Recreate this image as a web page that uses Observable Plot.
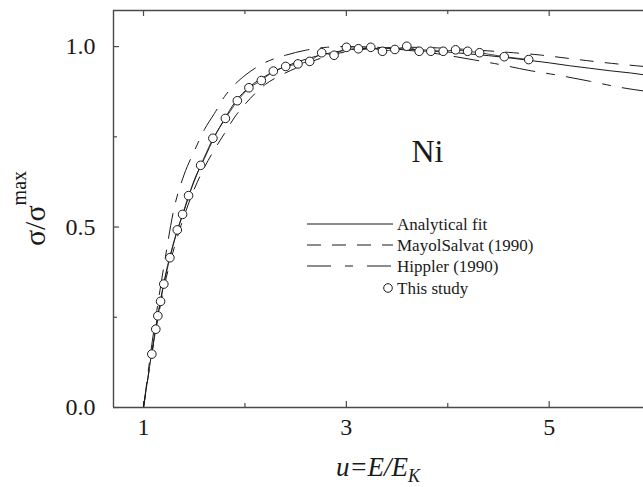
<!DOCTYPE html>
<html>
<head>
<meta charset="utf-8">
<script src="https://cdn.jsdelivr.net/npm/d3@7"></script>
<script src="https://cdn.jsdelivr.net/npm/@observablehq/plot@0.6"></script>
<style>
  html, body { margin: 0; padding: 0; background: #fff; }
</style>
</head>
<body>
<div id="chart"></div>
<script>
// ---- data ----
const studyU = [1.082, 1.121, 1.141, 1.168, 1.200, 1.260, 1.333, 1.385, 1.444, 1.563, 1.684, 1.807, 1.925, 2.039, 2.162, 2.280, 2.402, 2.523, 2.639, 2.757, 2.879, 3.001, 3.119, 3.241, 3.356, 3.478, 3.596, 3.718, 3.833, 3.955, 4.077, 4.196, 4.314, 4.557, 4.798];
const studyS = [0.148, 0.217, 0.254, 0.294, 0.342, 0.415, 0.492, 0.535, 0.587, 0.671, 0.746, 0.801, 0.850, 0.886, 0.906, 0.932, 0.945, 0.952, 0.959, 0.983, 0.976, 0.998, 0.994, 0.998, 0.987, 0.992, 1.001, 0.987, 0.987, 0.987, 0.991, 0.987, 0.983, 0.972, 0.964];

const fitU = [1.0, 1.08, 1.15, 1.2, 1.3, 1.4, 1.5, 1.6, 1.7, 1.8, 1.9, 2.0, 2.2, 2.4, 2.6, 2.8, 3.0, 3.2, 3.4, 3.6, 3.8, 4.0, 4.2, 4.4, 4.6, 4.8, 5.0, 5.2, 5.4, 5.6, 5.8, 5.93];
const fitS = [0.0, 0.15, 0.27, 0.345, 0.46, 0.545, 0.63, 0.69, 0.75, 0.80, 0.845, 0.877, 0.918, 0.945, 0.965, 0.98, 0.99, 0.995, 0.995, 0.993, 0.99, 0.985, 0.98, 0.975, 0.969, 0.962, 0.955, 0.947, 0.94, 0.933, 0.927, 0.922];

const mayolU = [1.0, 1.1, 1.2, 1.3, 1.4, 1.5, 1.6, 1.7, 1.8, 1.9, 2.0, 2.1, 2.2, 2.35, 2.5, 2.7, 2.9, 3.1, 3.4, 3.7, 4.0, 4.3, 4.6, 4.9, 5.2, 5.5, 5.93];
const mayolS = [0.0, 0.18, 0.33, 0.44, 0.53, 0.605, 0.665, 0.715, 0.76, 0.805, 0.84, 0.87, 0.895, 0.92, 0.94, 0.963, 0.98, 0.99, 0.997, 0.998, 0.995, 0.99, 0.984, 0.977, 0.967, 0.957, 0.945];

const hipplerU = [1.0, 1.1, 1.2, 1.3, 1.4, 1.5, 1.6, 1.7, 1.8, 1.9, 2.0, 2.2, 2.4, 2.6, 2.8, 3.0, 3.3, 3.6, 3.9, 4.2, 4.5, 4.8, 5.1, 5.4, 5.7, 5.93];
const hipplerS = [0.0, 0.21, 0.39, 0.55, 0.645, 0.71, 0.77, 0.815, 0.862, 0.895, 0.92, 0.956, 0.976, 0.99, 0.998, 1.0, 0.998, 0.99, 0.98, 0.966, 0.951, 0.934, 0.92, 0.904, 0.887, 0.877];

const xDomain = [0.704, 5.93];
const yDomain = [0, 1.1];
const xMajorTicks = [1, 3, 5];
const xMinorTicks = [2, 4];
const yMajorTicks = [0, 0.5, 1.0];
const yMinorTicks = [0.25, 0.75];
const niLabel = [{u: 3.80, s: 0.71, text: "Ni"}];

const legendItems = [
  {label: "Analytical fit", dash: null},
  {label: "MayolSalvat (1990)", dash: "14,11"},
  {label: "Hippler (1990)", dash: "24,14,8,14"},
  {label: "This study", dash: "circle"}
];

// ---- build tables ----
const study = studyU.map((u, i) => ({u, s: studyS[i]}));
const fit = fitU.map((u, i) => ({u, s: fitS[i]}));
const mayol = mayolU.map((u, i) => ({u, s: mayolS[i]}));
const hippler = hipplerU.map((u, i) => ({u, s: hipplerS[i]}));

const W = 643, H = 487;
const mL = 113, mR = 0, mT = 10, mB = 80;
const innerW = W - mL - mR, innerH = H - mT - mB;
const axisColor = "#4a4a4a";
const ink = "#1a1a1a";
const serif = "'Liberation Serif', 'Times New Roman', serif";

const svg = Plot.plot({
  width: W,
  height: H,
  marginLeft: mL,
  marginRight: mR,
  marginTop: mT,
  marginBottom: mB,
  style: {fontFamily: serif, fontSize: "24px", background: "#fff", color: ink},
  x: {domain: xDomain, axis: null},
  y: {domain: yDomain, axis: null},
  marks: [
    // frame lines
    Plot.ruleX([xDomain[0]], {stroke: axisColor, strokeWidth: 1.4}),
    Plot.ruleY([yDomain[1]], {stroke: axisColor, strokeWidth: 1.4}),
    Plot.ruleY([yDomain[0]], {stroke: axisColor, strokeWidth: 1.4}),
    // inward ticks, bottom
    Plot.ruleX(xMajorTicks, {insetTop: innerH - 6, stroke: axisColor, strokeWidth: 1.2}),
    Plot.ruleX(xMinorTicks, {insetTop: innerH - 4, stroke: axisColor, strokeWidth: 1.2}),
    // inward ticks, top
    Plot.ruleX(xMajorTicks, {insetBottom: innerH - 6, stroke: axisColor, strokeWidth: 1.2}),
    Plot.ruleX(xMinorTicks, {insetBottom: innerH - 4, stroke: axisColor, strokeWidth: 1.2}),
    // inward ticks, left
    Plot.ruleY(yMajorTicks, {insetRight: innerW - 6, stroke: axisColor, strokeWidth: 1.2}),
    Plot.ruleY(yMinorTicks, {insetRight: innerW - 4, stroke: axisColor, strokeWidth: 1.2}),
    // tick labels
    Plot.axisX(xMajorTicks, {tickSize: 0, tickPadding: 10, label: null, fill: ink}),
    Plot.axisY(yMajorTicks, {tickSize: 0, tickPadding: 18, label: null, tickFormat: d3.format(".1f"), fill: ink}),
    // curves
    Plot.line(mayol, {x: "u", y: "s", stroke: ink, strokeWidth: 1, strokeDasharray: "13,12", curve: "monotone-x", clip: true}),
    Plot.line(hippler, {x: "u", y: "s", stroke: ink, strokeWidth: 1, strokeDasharray: "25,12,8,12", curve: "monotone-x", clip: true}),
    Plot.line(fit, {x: "u", y: "s", stroke: ink, strokeWidth: 1, curve: "monotone-x", clip: true}),
    Plot.line(study, {x: "u", y: "s", stroke: ink, strokeWidth: 0.8}),
    Plot.dot(study, {x: "u", y: "s", r: 4.3, fill: "#fff", stroke: ink, strokeWidth: 1}),
    // annotation
    Plot.text(niLabel, {x: "u", y: "s", text: "text", fontSize: 32, fill: ink})
  ]
});

const root = d3.select(svg);

// y-axis title
const yt = root.append("text")
  .attr("transform", `translate(45, ${mT + innerH / 2}) rotate(-90)`)
  .attr("text-anchor", "middle")
  .attr("fill", ink)
  .style("font-family", serif);
yt.append("tspan").attr("font-size", 30).text("σ/σ");
yt.append("tspan").attr("font-size", 20).attr("dy", -19).text("max");

// x-axis title
const xt = root.append("text")
  .attr("x", 378)
  .attr("y", 476)
  .attr("text-anchor", "middle")
  .attr("fill", ink)
  .attr("font-style", "italic")
  .style("font-family", serif);
xt.append("tspan").attr("font-size", 27).text("u=E/E");
xt.append("tspan").attr("font-size", 18).attr("dy", 6).text("K");

// legend
const lg = root.append("g")
  .attr("text-anchor", "start")
  .attr("font-size", 17)
  .attr("fill", ink)
  .style("font-family", serif);
const rowY = [224, 245, 266, 288];
legendItems.forEach((d, i) => {
  const y = rowY[i];
  if (d.dash === "circle") {
    lg.append("circle").attr("cx", 388).attr("cy", y).attr("r", 4.3)
      .attr("fill", "#fff").attr("stroke", ink).attr("stroke-width", 1);
  } else {
    const ln = lg.append("line").attr("x1", 307).attr("x2", 393).attr("y1", y).attr("y2", y)
      .attr("stroke", ink).attr("stroke-width", 1);
    if (d.dash) ln.attr("stroke-dasharray", d.dash);
  }
  lg.append("text").attr("x", 397).attr("y", y + 6).attr("text-anchor", "start").text(d.label);
});

document.getElementById("chart").appendChild(svg);
</script>
</body>
</html>
